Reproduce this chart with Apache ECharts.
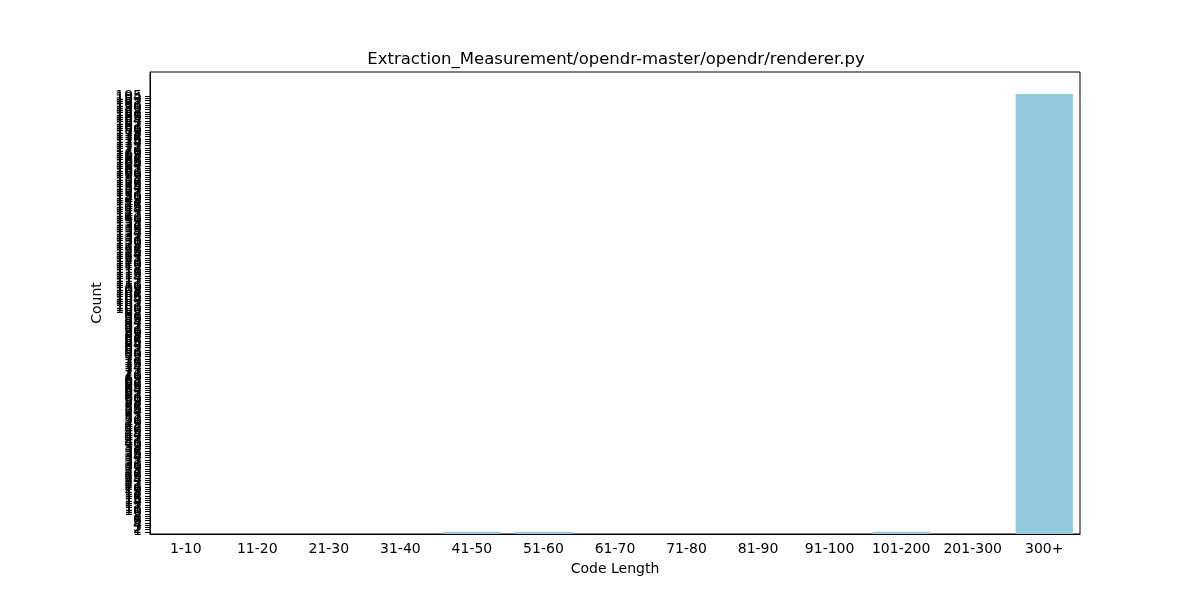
<!DOCTYPE html>
<html>
<head>
<meta charset="utf-8">
<script src="https://cdn.jsdelivr.net/npm/echarts@6/dist/echarts.min.js"></script>
<style>
  html, body { margin: 0; padding: 0; background: #fff; }
  #chart { width: 1200px; height: 600px; }
</style>
</head>
<body>
<div id="chart"></div>
<script>
// data
const categories = ['1-10', '11-20', '21-30', '31-40', '41-50', '51-60', '61-70',
  '71-80', '81-90', '91-100', '101-200', '201-300', '300+']
const counts = [0, 0, 0, 0, 1, 1, 0, 0, 0, 0, 1, 0, 196]

// y ticks sit on every integer from 0 up to the largest count
const yMax = 196
const yTicks = []
for (let i = 0; i <= yMax; i++) yTicks.push(i)

const font = 'DejaVu Sans'

const chart = echarts.init(document.getElementById('chart'))

chart.setOption({
  animation: false,
  textStyle: { fontFamily: font, color: '#000' },
  title: {
    text: 'Extraction_Measurement/opendr-master/opendr/renderer.py',
    left: 611,
    top: 46,
    textAlign: 'center',
    textStyle: { fontFamily: font, fontSize: 16.5, fontWeight: 'normal', color: '#000' }
  },
  grid: {
    left: 150,
    right: 120,
    top: 72,
    bottom: 66,
    show: true,
    borderColor: '#000',
    borderWidth: 1,
    backgroundColor: 'transparent'
  },
  xAxis: {
    type: 'category',
    data: categories,
    name: 'Code Length',
    nameLocation: 'middle',
    nameGap: 28,
    nameTextStyle: { fontFamily: font, fontSize: 14, color: '#000' },
    axisLine: { lineStyle: { color: '#000', width: 1 } },
    axisTick: { alignWithLabel: true, length: 5, lineStyle: { color: '#000' } },
    axisLabel: { fontFamily: font, fontSize: 14, color: '#000', margin: 8, interval: 0 },
    splitLine: { show: false }
  },
  yAxis: {
    type: 'value',
    min: 0,
    max: yMax * 1.05,
    name: 'Count',
    nameLocation: 'middle',
    nameGap: 42,
    nameTextStyle: { fontFamily: font, fontSize: 14, color: '#000' },
    axisLine: { show: true, lineStyle: { color: '#000', width: 1 } },
    axisTick: { show: true, length: 5, customValues: yTicks, lineStyle: { color: '#000' } },
    axisLabel: { fontFamily: font, fontSize: 14, color: '#000', margin: 8, customValues: yTicks },
    splitLine: { show: false }
  },
  series: [{
    type: 'bar',
    data: counts,
    barCategoryGap: '20%',
    itemStyle: { color: 'rgb(148,201,222)' }
  }]
})
</script>
</body>
</html>
